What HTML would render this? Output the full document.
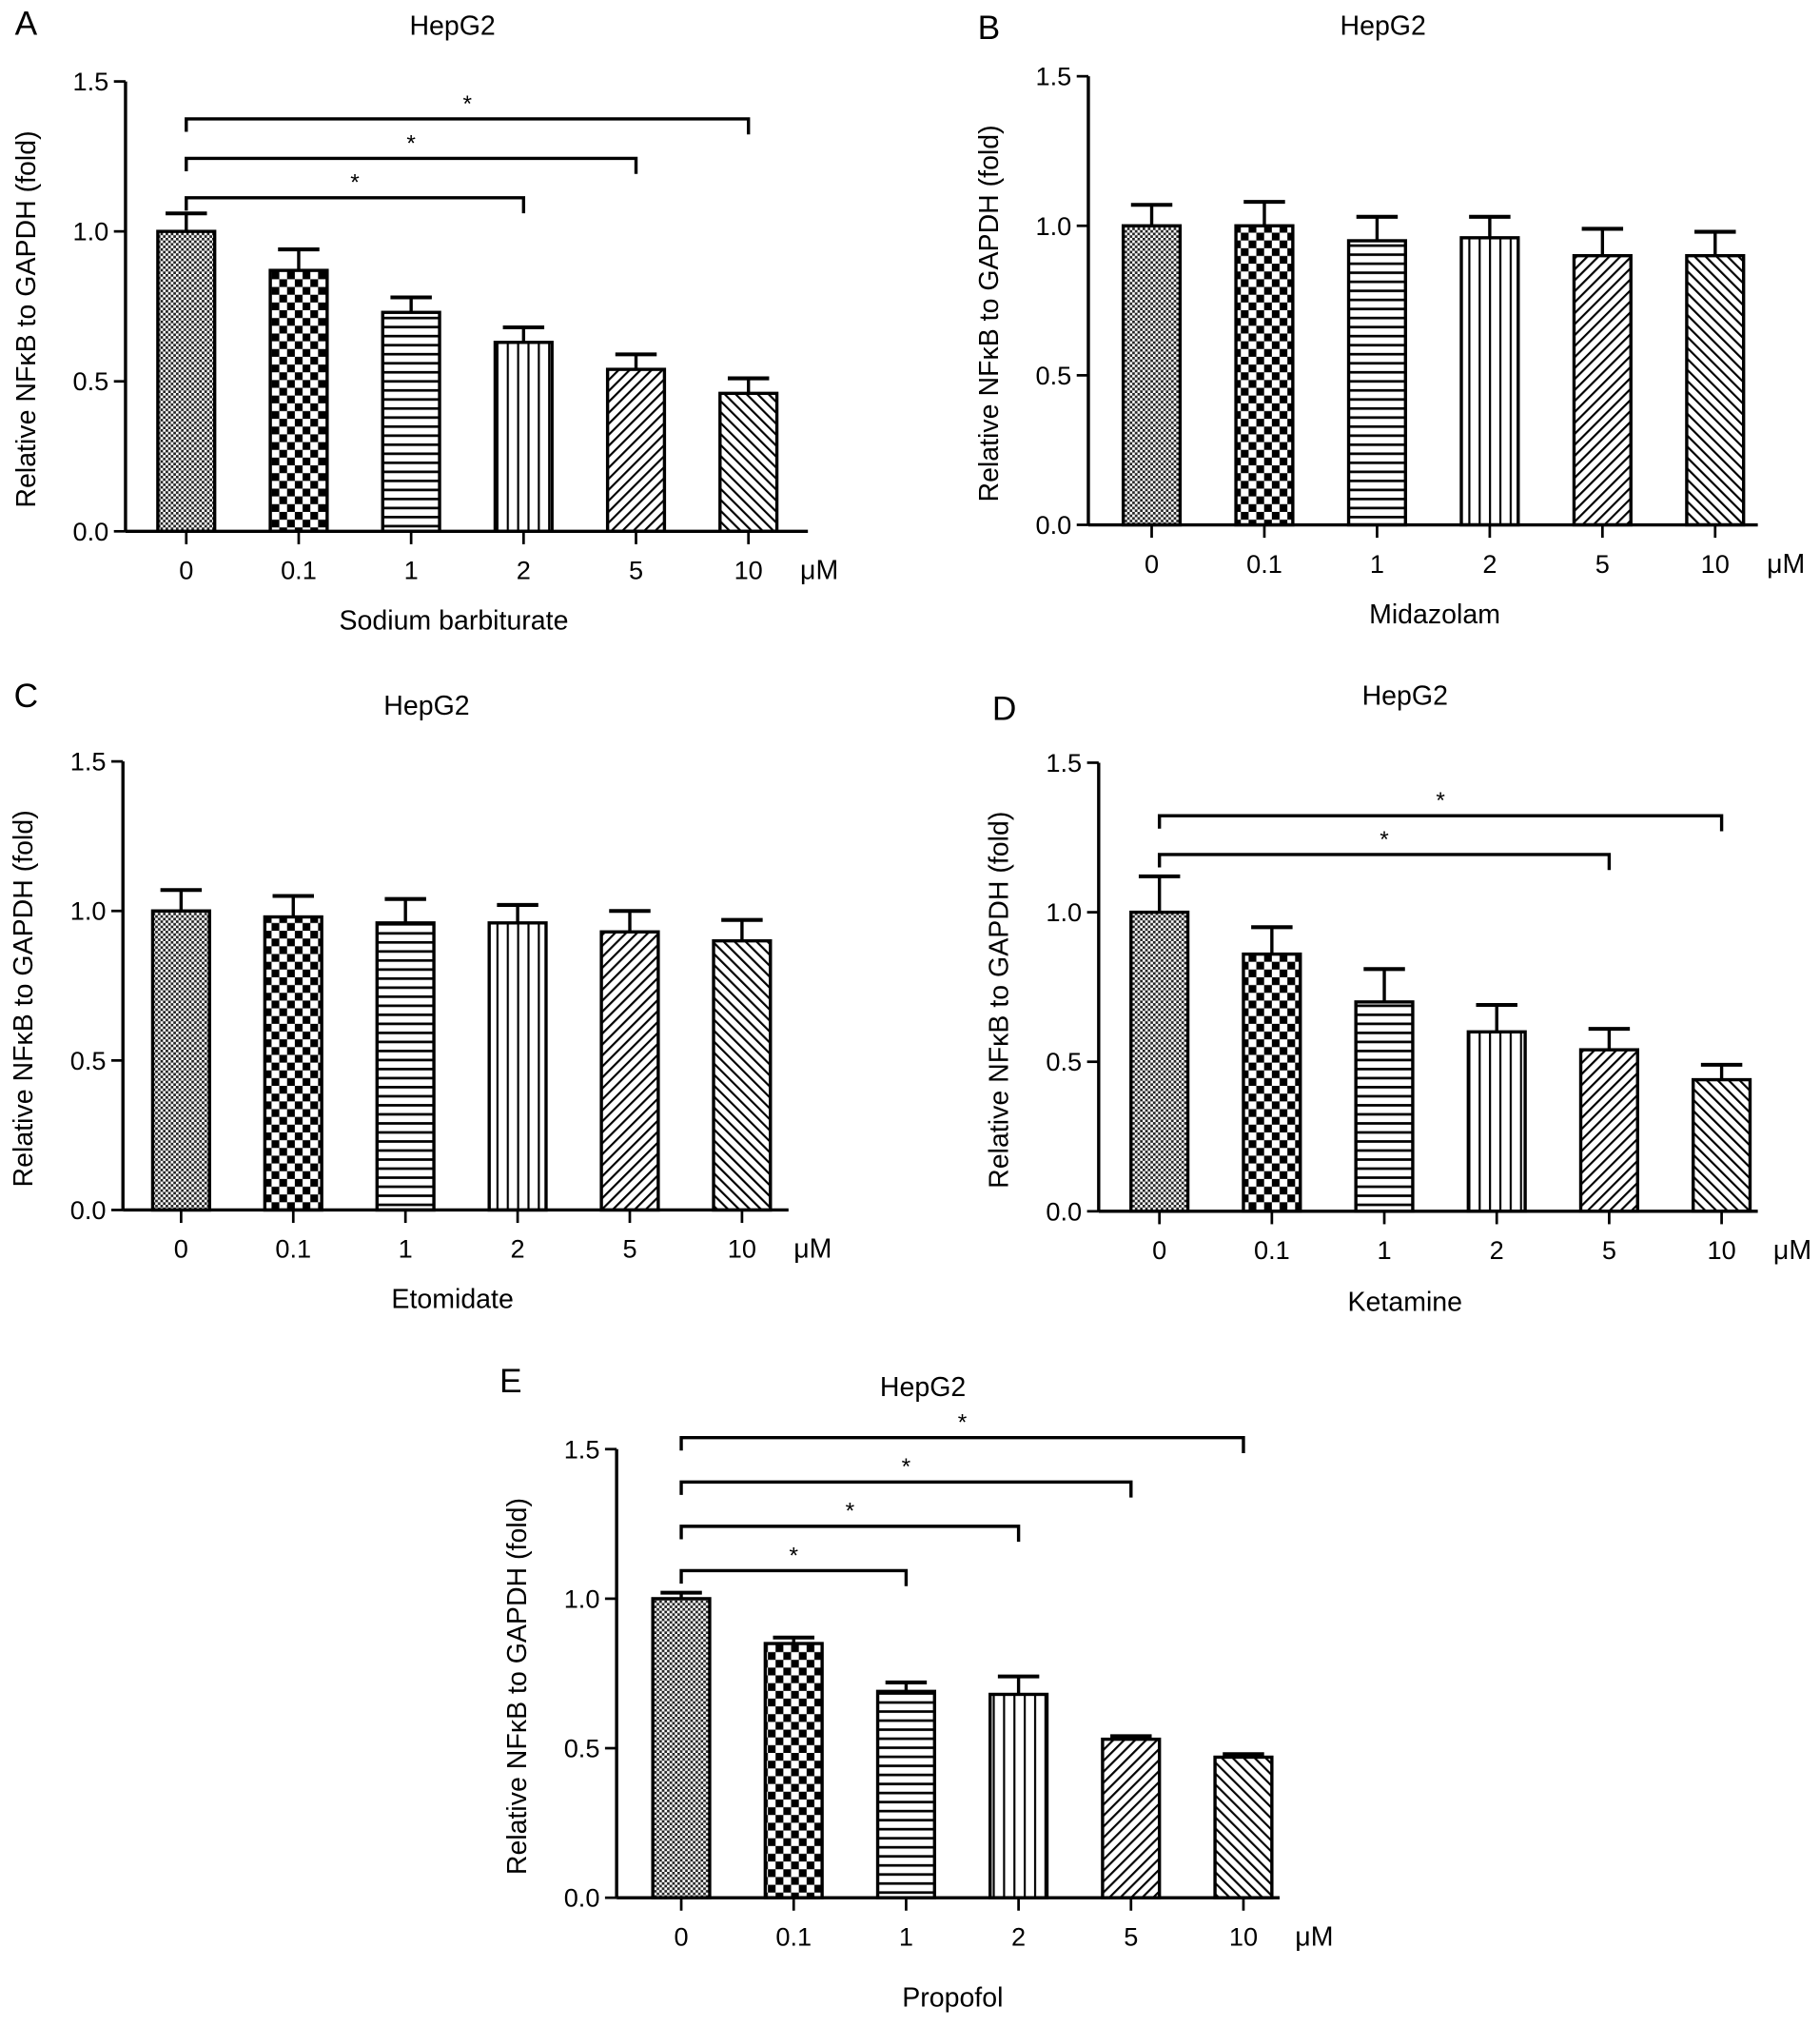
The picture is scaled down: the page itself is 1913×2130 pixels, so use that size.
<!DOCTYPE html>
<html><head><meta charset="utf-8"><style>html,body{margin:0;padding:0;background:#fff}svg{display:block}</style></head>
<body>
<svg id="fig" xmlns="http://www.w3.org/2000/svg" width="1913" height="2130" viewBox="0 0 1408 1568" font-family="Liberation Sans, sans-serif">
<defs>
<pattern id="p0" width="4" height="4" patternUnits="userSpaceOnUse"><rect width="4" height="4" fill="#fff"/><rect width="2" height="2" fill="#222"/><rect x="2" y="2" width="2" height="2" fill="#222"/></pattern>
<pattern id="p1" width="12" height="12" patternUnits="userSpaceOnUse"><rect width="12" height="12" fill="#fff"/><rect width="6" height="6" fill="#000"/><rect x="6" y="6" width="6" height="6" fill="#000"/></pattern>
<pattern id="p2" width="10" height="7" patternUnits="userSpaceOnUse"><rect width="10" height="7" fill="#fff"/><rect y="0" width="10" height="2" fill="#000"/></pattern>
<pattern id="p3" width="8" height="10" patternUnits="userSpaceOnUse"><rect width="8" height="10" fill="#fff"/><rect x="0" width="1.6" height="10" fill="#000"/></pattern>
<pattern id="p4" width="6" height="6" patternUnits="userSpaceOnUse" patternTransform="rotate(45)"><rect width="6" height="6" fill="#fff"/><rect width="1.6" height="6" fill="#000"/></pattern>
<pattern id="p5" width="6" height="6" patternUnits="userSpaceOnUse" patternTransform="rotate(-45)"><rect width="6" height="6" fill="#fff"/><rect width="1.6" height="6" fill="#000"/></pattern>
</defs>
</svg>
<script>
const categories = ["0","0.1","1","2","5","10"];
const yTicks = [0, 0.5, 1.0, 1.5];
const yTickLabels = ["0.0","0.5","1.0","1.5"];
const valuesA = [1.0, 0.87, 0.73, 0.63, 0.54, 0.46];
const errorsA = [0.06, 0.07, 0.05, 0.05, 0.05, 0.05];
const valuesB = [1.0, 1.0, 0.95, 0.96, 0.90, 0.90];
const errorsB = [0.07, 0.08, 0.08, 0.07, 0.09, 0.08];
const valuesC = [1.0, 0.98, 0.96, 0.96, 0.93, 0.90];
const errorsC = [0.07, 0.07, 0.08, 0.06, 0.07, 0.07];
const valuesD = [1.0, 0.86, 0.70, 0.60, 0.54, 0.44];
const errorsD = [0.12, 0.09, 0.11, 0.09, 0.07, 0.05];
const valuesE = [1.0, 0.85, 0.69, 0.68, 0.53, 0.47];
const errorsE = [0.02, 0.02, 0.03, 0.06, 0.01, 0.01];
const sigA = [3, 4, 5];
const sigD = [4, 5];
const sigE = [2, 3, 4, 5];

const NS = "http://www.w3.org/2000/svg";
const svg = document.getElementById('fig');
function mk(tag, attrs, parent, text){
  const e = document.createElementNS(NS, tag);
  for (const k in attrs) e.setAttribute(k, attrs[k]);
  if (text !== undefined) e.textContent = text;
  (parent || svg).appendChild(e);
  return e;
}
const panels = [
  {id:'a', letter:'A', lx:20, ly:27, ax:97, y0:411, y15:63, x0:144, dx:87, xend:625, title:[350,27], xl:"Sodium barbiturate", xlp:[351,487], vals:valuesA, errs:errorsA, sig:sigA, brY0:153, brStep:30.5},
  {id:'b', letter:'B', lx:765, ly:30, ax:842, y0:406, y15:59, x0:891, dx:87.2, xend:1360, title:[1070,27], xl:"Midazolam", xlp:[1110,482], vals:valuesB, errs:errorsB, sig:[]},
  {id:'c', letter:'C', lx:20, ly:547, ax:95, y0:936, y15:589, x0:140, dx:86.8, xend:610, title:[330,553], xl:"Etomidate", xlp:[350,1012], vals:valuesC, errs:errorsC, sig:[]},
  {id:'d', letter:'D', lx:777, ly:557, ax:850, y0:937, y15:590, x0:897, dx:87, xend:1360, title:[1087,545], xl:"Ketamine", xlp:[1087,1014], vals:valuesD, errs:errorsD, sig:sigD, brY0:661, brStep:30},
  {id:'e', letter:'E', lx:395, ly:1077, ax:477, y0:1468, y15:1121, x0:527, dx:87, xend:990, title:[714,1080], xl:"Propofol", xlp:[737,1552], vals:valuesE, errs:errorsE, sig:sigE, brY0:1215, brStep:34.3}
];
panels.forEach(p=>{
  const g = mk('g', {});
  
  
  const ys = v => p.y0 - (p.y0 - p.y15) * v / 1.5;
  const xs = i => p.x0 + p.dx * i;
  const L = mk('text', {x:p.lx, y:p.ly, 'font-size':26, 'text-anchor':'middle'}, g, p.letter);
   
  const T = mk('text', {x:p.title[0], y:p.title[1], 'font-size':21, 'text-anchor':'middle'}, g, 'HepG2');
   
  // bars
  p.vals.forEach((v,i)=>{
    const bw = 44, top = ys(v), et = ys(v + p.errs[i]);
    const eb = mk('line', {x1:xs(i), x2:xs(i), y1:top, y2:et, stroke:'#000', 'stroke-width':2.5}, g);
     
    const cap = mk('line', {x1:xs(i)-16, x2:xs(i)+16, y1:et, y2:et, stroke:'#000', 'stroke-width':3}, g);
     
    const r = mk('rect', {x:xs(i)-bw/2, y:top, width:bw, height:p.y0-top, fill:'url(#p'+i+')', stroke:'#000', 'stroke-width':2.5}, g);
     
  });
  // axes
  const ya = mk('line', {x1:p.ax, x2:p.ax, y1:p.y15, y2:p.y0, stroke:'#000', 'stroke-width':2.5}, g);
   
  const xa = mk('line', {x1:p.ax, x2:p.xend, y1:p.y0, y2:p.y0, stroke:'#000', 'stroke-width':2.5}, g);
   
  yTicks.forEach((t,k)=>{
    const tk = mk('line', {x1:p.ax-9, x2:p.ax, y1:ys(t), y2:ys(t), stroke:'#000', 'stroke-width':2}, g);
     
    const tl = mk('text', {x:p.ax-13, y:ys(t)+7, 'font-size':20, 'text-anchor':'end'}, g, yTickLabels[k]);
     
  });
  categories.forEach((c,i)=>{
    const tk = mk('line', {x1:xs(i), x2:xs(i), y1:p.y0, y2:p.y0+10, stroke:'#000', 'stroke-width':2}, g);
     
    const tl = mk('text', {x:xs(i), y:p.y0+37, 'font-size':20, 'text-anchor':'middle'}, g, c);
     
  });
  const um = mk('text', {x:xs(5)+40, y:p.y0+37, 'font-size':21}, g, 'μM');
   
  const xl = mk('text', {x:p.xlp[0], y:p.xlp[1], 'font-size':21, 'text-anchor':'middle'}, g, p.xl);
   
  const cy = (p.y0 + p.y15)/2 + 10, cx = p.ax - 70;
  const yl = mk('text', {x:cx, y:cy, 'font-size':21, 'text-anchor':'middle', transform:`rotate(-90 ${cx} ${cy})`}, g, 'Relative NFκB to GAPDH (fold)');
   
  // significance brackets
  p.sig.forEach((j,k)=>{
    const by = p.brY0 - p.brStep*k, x1 = xs(0), x2 = xs(j);
    const br = mk('polyline', {points:`${x1},${by+10} ${x1},${by} ${x2},${by} ${x2},${by+12}`, fill:'none', stroke:'#000', 'stroke-width':2.5}, g);
     
    const st = mk('text', {x:(x1+x2)/2, y:by-6, 'font-size':18, 'text-anchor':'middle'}, g, '*');
     
  });
});
</script>
</body></html>
